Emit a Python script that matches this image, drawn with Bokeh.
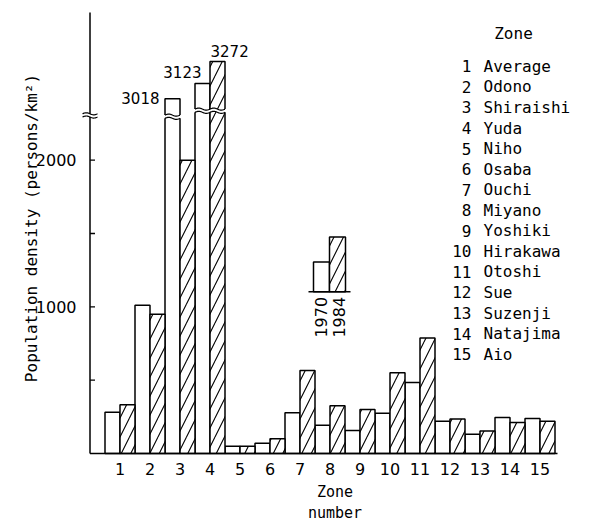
import numpy as np
from bokeh.plotting import figure
from bokeh.models import Range1d, FixedTicker, ColumnDataSource
from bokeh.core.properties import value
from bokeh.embed import file_html
from bokeh.resources import INLINE

# ---------------- data ----------------
zones = list(range(1, 16))
zone_names = ["Average", "Odono", "Shiraishi", "Yuda", "Niho", "Osaba", "Ouchi",
              "Miyano", "Yoshiki", "Hirakawa", "Otoshi", "Sue", "Suzenji",
              "Natajima", "Aio"]
years = ["1970", "1984"]
density_1970 = [281, 1011, 3018, 3123, 50, 70, 277, 193, 157, 274, 484, 220, 132, 245, 238]
density_1984 = [333, 950, 2000, 3272, 50, 100, 566, 326, 300, 551, 787, 236, 154, 211, 220]
y_label_ticks = [1000, 2000]
y_minor_ticks = [500, 1000, 1500, 2000]

# broken y axis: values between CUT_LO and CUT_HI are skipped
CUT_LO, CUT_HI = 2300, 2900
GAP = CUT_HI - CUT_LO


def disp(v):
    return v if v <= CUT_LO else v - GAP


# ---------------- layout helpers (pixel -> data) ----------------
X0_PX, XS = 89.5, 30.0       # x=0 at 89.5px, 30px per zone
Y0_PX, YS = 454.0, 0.147     # y=0 at 454px, 0.147px per unit


def X(px):
    return (px - X0_PX) / XS


def Y(py):
    return (Y0_PX - py) / YS


NUM_FONT = "DejaVu Sans"
MONO = "DejaVu Sans Mono"

p = figure(width=591, height=525,
           x_range=Range1d(X(78), X(591)), y_range=Range1d(Y(456), Y(0)),
           min_border_left=78, min_border_right=0, min_border_top=0,
           min_border_bottom=69,
           output_backend="svg", toolbar_location=None)
p.outline_line_color = None
p.xgrid.visible = False
p.ygrid.visible = False
p.background_fill_color = "white"

# ---------------- bars ----------------
src = ColumnDataSource(dict(
    x70=[z - 0.25 for z in zones], x84=[z + 0.25 for z in zones],
    t70=[disp(v) for v in density_1970], t84=[disp(v) for v in density_1984]))
p.vbar(x="x70", top="t70", bottom=0, width=0.5, source=src,
       fill_color="white", line_color="black", line_width=1.5)
p.vbar(x="x84", top="t84", bottom=0, width=0.5, source=src,
       fill_color="white", line_color="black", line_width=1.5,
       hatch_pattern="/", hatch_scale=19, hatch_weight=1.1, hatch_color="black")

# ---------------- break marks ----------------
HALF_GAP, AMP = 11, 7
break_center = {3: 2296, 4: 2337}
patch_xs, patch_ys, wave_xs, wave_ys = [], [], [], []


def add_break(l, r, c, ext):
    xs = np.linspace(l, r, 30)
    w = AMP * np.sin(2 * np.pi * (xs - l) / (r - l))
    lo = c - HALF_GAP + w
    hi = c + HALF_GAP + w
    px_ = [l - ext] + list(xs) + [r + ext, r + ext] + list(xs[::-1]) + [l - ext]
    py_ = [lo[0]] + list(lo) + [lo[-1], hi[-1]] + list(hi[::-1]) + [hi[0]]
    patch_xs.append(px_)
    patch_ys.append(py_)
    wave_xs.extend([list(xs), list(xs)])
    wave_ys.extend([list(lo), list(hi)])


for z, a, b in zip(zones, density_1970, density_1984):
    if a > CUT_LO:
        add_break(z - 0.5, z, break_center[z], 0.05)
    if b > CUT_LO:
        add_break(z, z + 0.5, break_center[z], 0.05)

AXIS_BREAK = 2305
add_break(X(82), X(97), AXIS_BREAK, 0.0)
p.patches(patch_xs, patch_ys, fill_color="white", line_color=None)
p.multi_line(wave_xs, wave_ys, line_color="black", line_width=1.2)

# ---------------- axes drawn as lines ----------------
p.segment(x0=[0, 0], y0=[0, AXIS_BREAK + HALF_GAP], x1=[0, 0],
          y1=[AXIS_BREAK - HALF_GAP, Y(12)], line_color="black", line_width=1.5)
p.segment(x0=[0] * len(y_minor_ticks), y0=y_minor_ticks,
          x1=[X(X0_PX + 5)] * len(y_minor_ticks), y1=y_minor_ticks,
          line_color="black", line_width=1.3)
p.segment(x0=[0], y0=[0], x1=[X(557)], y1=[0], line_color="black", line_width=1.5)

# ---------------- bokeh axes (labels) ----------------
p.yaxis.ticker = FixedTicker(ticks=y_label_ticks)
p.yaxis.axis_line_color = None
p.yaxis.major_tick_line_color = None
p.yaxis.minor_tick_line_color = None
p.yaxis.major_label_standoff = -4
p.yaxis.major_label_text_font = NUM_FONT
p.yaxis.major_label_text_font_size = "16px"
p.yaxis.major_label_text_color = "black"
p.yaxis.axis_label = "Population density (persons/km\u00b2)"
p.yaxis.axis_label_text_font = MONO
p.yaxis.axis_label_text_font_size = "16px"
p.yaxis.axis_label_text_font_style = "normal"
p.yaxis.axis_label_text_color = "black"
p.yaxis.axis_label_standoff = -8

p.xaxis.ticker = FixedTicker(ticks=zones)
p.xaxis.axis_line_color = None
p.xaxis.major_tick_line_color = None
p.xaxis.minor_tick_line_color = None
p.xaxis.major_label_standoff = 1
p.xaxis.major_label_text_font = NUM_FONT
p.xaxis.major_label_text_font_size = "16px"
p.xaxis.major_label_text_color = "black"
p.xaxis.axis_label = "Zone\nnumber"
p.xaxis.axis_label_text_font = MONO
p.xaxis.axis_label_text_font_size = "15px"
p.xaxis.axis_label_text_font_style = "normal"
p.xaxis.axis_label_text_color = "black"
p.xaxis.axis_label_standoff = 5

# ---------------- value labels on broken bars ----------------
lab_x, lab_y, lab_t, lab_xo, lab_yo, lab_al = [], [], [], [], [], []
offsets = {(3, 0): (-13, -1, "right"), (4, 0): (-1, -11, "right"),
           (4, 1): (-7, -11, "left")}
for z, a, b in zip(zones, density_1970, density_1984):
    for k, v in enumerate((a, b)):
        if v > CUT_LO:
            xo, yo, al = offsets[(z, k)]
            lab_x.append(z - 0.25 + 0.5 * k)
            lab_y.append(disp(v))
            lab_t.append(str(v))
            lab_xo.append(xo)
            lab_yo.append(yo)
            lab_al.append(al)
p.text(x=lab_x, y=lab_y, text=lab_t, x_offset=lab_xo, y_offset=lab_yo,
       text_align=lab_al, text_baseline="middle", text_font=value(NUM_FONT),
       text_font_size="15px", text_color="black")

# ---------------- zone legend ----------------
p.text(x=[X(513)], y=[Y(33)], text=["Zone"], text_align="center",
       text_baseline="middle", text_font=value(MONO), text_font_size="16px",
       text_color="black")
row_y = [Y(66 + 20.6 * i) for i in range(len(zones))]
p.text(x=[X(471)] * len(zones), y=row_y, text=[str(z) for z in zones],
       text_align="right", text_baseline="middle", text_font=value(MONO),
       text_font_size="16px", text_color="black")
p.text(x=[X(483)] * len(zones), y=row_y, text=zone_names,
       text_align="left", text_baseline="middle", text_font=value(MONO),
       text_font_size="16px", text_color="black")

# ---------------- year key (inset) ----------------
key_l = [X(313), X(329)]
key_r = [X(329), X(345)]
key_top = [Y(262), Y(237)]
p.quad(left=key_l[:1], right=key_r[:1], bottom=[Y(292)], top=key_top[:1],
       fill_color="white", line_color="black", line_width=1.5)
p.quad(left=key_l[1:], right=key_r[1:], bottom=[Y(292)], top=key_top[1:],
       fill_color="white", line_color="black", line_width=1.5,
       hatch_pattern="/", hatch_scale=19, hatch_weight=1.1, hatch_color="black")
p.segment(x0=[X(308)], y0=[Y(292)], x1=[X(350)], y1=[Y(292)],
          line_color="black", line_width=1.5)
p.text(x=[X(320.5), X(338)], y=[Y(297), Y(297)], text=years, angle=np.pi / 2,
       text_align="right", text_baseline="middle", text_font=value(NUM_FONT),
       text_font_size="16px", text_color="black")

open("out.html", "w").write(file_html(p, INLINE))
